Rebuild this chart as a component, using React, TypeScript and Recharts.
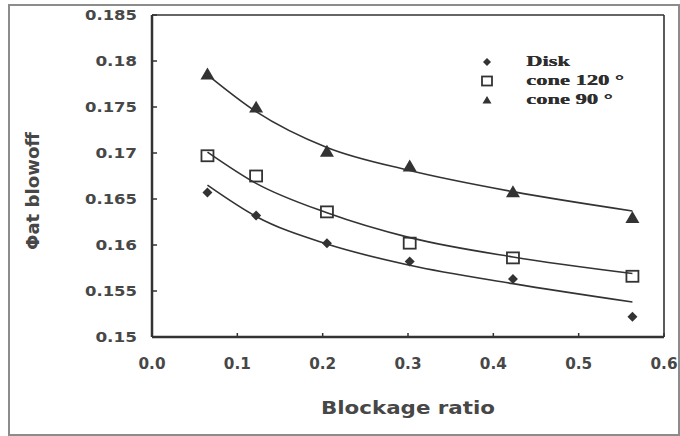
import React from "react";
import { ComposedChart, Line, XAxis, YAxis, ReferenceLine, Legend } from "recharts";

// blockage ratios where the three bluff bodies were measured
const blockageRatio = [0.065, 0.122, 0.205, 0.302, 0.423, 0.563];

// measured equivalence ratio at blowoff
const disk = [0.1657, 0.1632, 0.1602, 0.1582, 0.1563, 0.1522];
const cone120 = [0.1697, 0.1675, 0.1636, 0.1602, 0.1586, 0.1566];
const cone90 = [0.1786, 0.175, 0.1702, 0.1686, 0.1658, 0.163];

// trend curves
const diskFit = [0.1665, 0.1631, 0.1601, 0.1578, 0.1558, 0.1538];
const cone120Fit = [0.1701, 0.1667, 0.1635, 0.1608, 0.1587, 0.1569];
const cone90Fit = [0.1785, 0.1745, 0.1706, 0.1681, 0.1658, 0.1637];

const xTicks = [0, 0.1, 0.2, 0.3, 0.4, 0.5, 0.6];
const yTicks = [0.15, 0.155, 0.16, 0.165, 0.17, 0.175, 0.18, 0.185];

const data = blockageRatio.map((x, i) => ({
    x,
    disk: disk[i],
    cone120: cone120[i],
    cone90: cone90[i],
    diskFit: diskFit[i],
    cone120Fit: cone120Fit[i],
    cone90Fit: cone90Fit[i],
}));

const INK = "#333333";
const LABEL = "#474747";

const Diamond = ({ cx, cy, r = 5 }: { cx: number; cy: number; r?: number }) => (
    <path
        d={`M${cx},${cy - r} L${cx + r},${cy} L${cx},${cy + r} L${cx - r},${cy} Z`}
        fill={INK}
    />
);

const Square = ({ cx, cy, s = 12 }: { cx: number; cy: number; s?: number }) => (
    <rect
        x={cx - s / 2}
        y={cy - (s - 1) / 2}
        width={s}
        height={s - 1}
        fill="none"
        stroke={INK}
        strokeWidth={1.8}
    />
);

const Triangle = ({ cx, cy, s = 14 }: { cx: number; cy: number; s?: number }) => (
    <path
        d={`M${cx},${cy - s * 0.45} L${cx + s / 2},${cy + s * 0.4} L${cx - s / 2},${cy + s * 0.4} Z`}
        fill={INK}
    />
);

const XTick = (props: any) => {
    const { x, y, payload } = props;
    const label = Number(payload.value).toFixed(1);
    return (
        <text
            x={x}
            y={y}
            textAnchor="middle"
            dominantBaseline="central"
            fontFamily="DejaVu Sans"
            fontWeight="bold"
            fontSize={16}
            fill={LABEL}
            textLength={label.length * 9}
            lengthAdjust="spacingAndGlyphs"
        >
            {label}
        </text>
    );
};

const YTick = (props: any) => {
    const { x, y, payload } = props;
    const label = String(payload.value);
    return (
        <text
            x={x}
            y={y}
            textAnchor="end"
            dominantBaseline="central"
            fontFamily="DejaVu Sans"
            fontWeight="bold"
            fontSize={14}
            fill={LABEL}
            textLength={label.length * 10.4}
            lengthAdjust="spacingAndGlyphs"
        >
            {label}
        </text>
    );
};

const YLabel = (props: any) => {
    const { viewBox } = props;
    const cx = viewBox.x + 33;
    const cy = viewBox.y + viewBox.height / 2 + 15;
    return (
        <text
            x={cx}
            y={cy}
            transform={`rotate(-90, ${cx}, ${cy})`}
            textAnchor="middle"
            dominantBaseline="central"
            fontFamily="DejaVu Sans"
            fontWeight="bold"
            fontSize={17}
            fill={LABEL}
            textLength={118}
            lengthAdjust="spacingAndGlyphs"
        >
            Φat blowoff
        </text>
    );
};

const XLabel = (props: any) => {
    const { viewBox } = props;
    return (
        <text
            x={viewBox.x + viewBox.width / 2}
            y={viewBox.y + 70}
            textAnchor="middle"
            dominantBaseline="central"
            fontFamily="DejaVu Sans"
            fontWeight="bold"
            fontSize={18}
            fill={LABEL}
            textLength={174}
            lengthAdjust="spacingAndGlyphs"
        >
            Blockage ratio
        </text>
    );
};

const legendMarker = (key: string) => {
    if (key === "disk") return <Diamond cx={7} cy={7} r={4} />;
    if (key === "cone120") return <Square cx={7} cy={7} s={10} />;
    return <Triangle cx={7} cy={7} s={9} />;
};

const LegendContent = (props: any) => {
    const items = (props.payload || []).filter((p: any) => p.type !== "none");
    return (
        <div>
            {items.map((p: any) => (
                <div
                    key={p.dataKey}
                    style={{ display: "flex", alignItems: "center", height: 19 }}
                >
                    <svg width={14} height={14}>
                        {legendMarker(p.dataKey)}
                    </svg>
                    <span
                        style={{
                            marginLeft: 32,
                            display: "inline-block",
                            fontFamily: "Liberation Serif",
                            fontWeight: 900,
                            fontSize: 15,
                            color: "#2e2e2e",
                            transform: "scaleX(1.5)",
                            transformOrigin: "left center",
                            whiteSpace: "nowrap",
                            textShadow: "0.4px 0 0 #2e2e2e",
                        }}
                    >
                        {p.value}
                    </span>
                </div>
            ))}
        </div>
    );
};

const App: React.FC = () => {
    return (
        <div
            style={{
                position: "absolute",
                left: 0,
                top: 0,
                width: 680,
                height: 436,
                background: "#fff",
            }}
        >
            <div
                style={{
                    position: "absolute",
                    left: 8,
                    top: 4,
                    width: 668,
                    height: 428,
                    border: "2px solid #8c8c8c",
                }}
            />
            <div style={{ position: "absolute", left: 0, top: 0 }}>
                <ComposedChart
                    width={680}
                    height={436}
                    data={data}
                    margin={{ top: 15, right: 16, bottom: 0, left: 0 }}
                >
                    <XAxis
                        dataKey="x"
                        type="number"
                        domain={[0, 0.6]}
                        ticks={xTicks}
                        height={99}
                        axisLine={{ stroke: INK, strokeWidth: 2.5 }}
                        tickLine={{ stroke: INK, strokeWidth: 1.5 }}
                        tickSize={-4}
                        tickMargin={30}
                        tick={<XTick />}
                        label={<XLabel />}
                    />
                    <YAxis
                        type="number"
                        domain={[0.15, 0.185]}
                        ticks={yTicks}
                        width={152}
                        axisLine={{ stroke: INK, strokeWidth: 2.5 }}
                        tickLine={{ stroke: INK, strokeWidth: 1.5 }}
                        tickSize={-5}
                        tickMargin={20}
                        tick={<YTick />}
                        label={<YLabel />}
                    />
                    <ReferenceLine y={0.185} stroke={INK} strokeWidth={1.6} />
                    <ReferenceLine x={0.6} stroke={INK} strokeWidth={1.6} />

                    <Line
                        dataKey="diskFit"
                        type="monotone"
                        stroke={INK}
                        strokeWidth={1.6}
                        dot={false}
                        activeDot={false}
                        legendType="none"
                        isAnimationActive={false}
                    />
                    <Line
                        dataKey="cone120Fit"
                        type="monotone"
                        stroke={INK}
                        strokeWidth={1.6}
                        dot={false}
                        activeDot={false}
                        legendType="none"
                        isAnimationActive={false}
                    />
                    <Line
                        dataKey="cone90Fit"
                        type="monotone"
                        stroke={INK}
                        strokeWidth={1.6}
                        dot={false}
                        activeDot={false}
                        legendType="none"
                        isAnimationActive={false}
                    />

                    <Line
                        dataKey="disk"
                        name="Disk"
                        stroke="none"
                        activeDot={false}
                        dot={(p: any) => <Diamond key={`d-${p.index}`} cx={p.cx} cy={p.cy} />}
                        isAnimationActive={false}
                    />
                    <Line
                        dataKey="cone120"
                        name="cone 120 °"
                        stroke="none"
                        activeDot={false}
                        dot={(p: any) => <Square key={`s-${p.index}`} cx={p.cx} cy={p.cy} />}
                        isAnimationActive={false}
                    />
                    <Line
                        dataKey="cone90"
                        name="cone 90 °"
                        stroke="none"
                        activeDot={false}
                        dot={(p: any) => <Triangle key={`t-${p.index}`} cx={p.cx} cy={p.cy} />}
                        isAnimationActive={false}
                    />

                    <Legend
                        layout="vertical"
                        align="center"
                        verticalAlign="middle"
                        content={<LegendContent />}
                        wrapperStyle={{ top: 52, left: 480, width: 180 }}
                    />
                </ComposedChart>
            </div>
        </div>
    );
};

export default App;
